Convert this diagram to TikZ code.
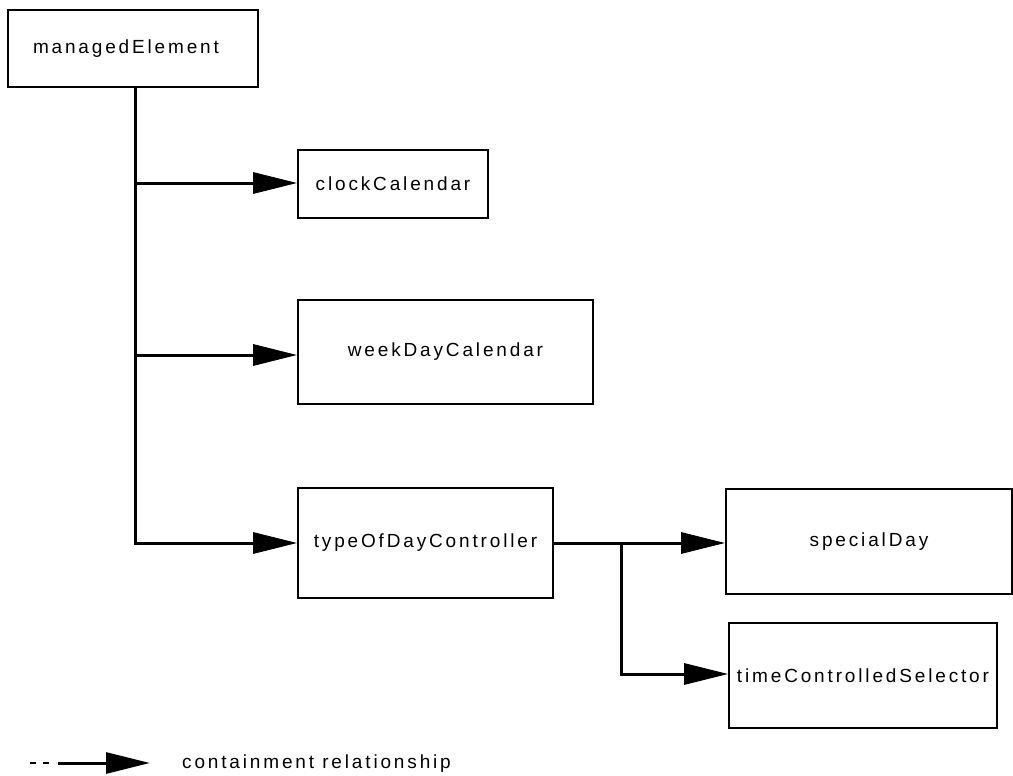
\documentclass[tikz,border=0pt]{standalone}
\usepackage{fontspec}
\setmainfont[LetterSpace=15]{Liberation Sans}
\usetikzlibrary{arrows.meta}
\begin{document}
\begin{tikzpicture}[x=1pt,y=1pt,
  box/.style={draw=black, line width=1.6pt, fill=white, rectangle, inner sep=0pt,
              font=\fontsize{19}{23}\selectfont},
  txt/.style={inner sep=0pt, font=\fontsize{19}{23}\selectfont},
  conn/.style={line width=3pt, -{Triangle[length=44pt,width=21pt]}},
  trunk/.style={line width=3pt}]
\useasboundingbox (0,0) rectangle (1013,-776);
% boxes
\node[box, minimum width=250pt, minimum height=77pt, text width=244pt, align=left, inner xsep=3pt] (me) at (133,-48.5) {\hspace*{22pt}managedElement};
\node[box, minimum width=190pt, minimum height=68pt] (cc) at (393,-184) {clockCalendar};
\node[box, minimum width=295pt, minimum height=104pt] (wd) at (445.5,-352) {weekDayCalendar};
\node[box, minimum width=255pt, minimum height=110pt] (td) at (425.5,-543) {typeOfDayController};
\node[box, minimum width=286pt, minimum height=105pt] (sd) at (869,-541.5) {specialDay};
\node[box, minimum width=268pt, minimum height=105pt] (tc) at (863,-675.5) {timeControlledSelector};
% trunk
\coordinate (t1) at (135,-183);
\coordinate (t2) at (135,-355);
\coordinate (t3) at (135,-543);
\coordinate (b1) at (621,-543);
\coordinate (b2) at (621,-674);
\draw[trunk] (me.south -| t1) -- ([yshift=-1.5pt]t3);
\draw[conn] (t1) -- (t1 -| cc.west);
\draw[conn] (t2) -- (t2 -| wd.west);
\draw[conn] ([xshift=-1.5pt]t3) -- (t3 -| td.west);
\draw[conn] (td.east |- b1) -- (b1 -| sd.west);
\draw[trunk] (b1) -- ([yshift=-1.5pt]b2);
\draw[conn] ([xshift=-1.5pt]b2) -- (b2 -| tc.west);
% legend
\coordinate (l0) at (30,-763);
\coordinate (l1) at (56,-763);
\coordinate (l2) at (150,-763);
\draw[line width=1.3pt, dash pattern=on 6pt off 7pt] (l0) -- (l1);
\draw[conn] ([xshift=2pt]l1) -- (l2);
\node[txt, anchor=west] (lt) at (182,-764) {containment relationship};
\end{tikzpicture}
\end{document}
